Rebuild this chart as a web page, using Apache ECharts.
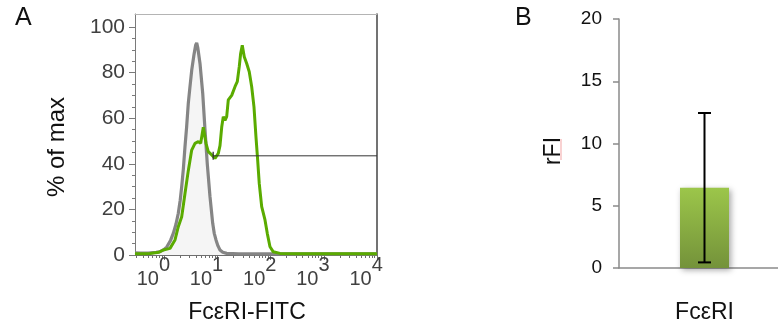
<!DOCTYPE html>
<html>
<head>
<meta charset="utf-8">
<script src="https://cdn.jsdelivr.net/npm/echarts@6/dist/echarts.min.js"></script>
<style>
html,body{margin:0;padding:0;background:#fff;}
#c{width:778px;height:330px;}
</style>
</head>
<body>
<div id="c"></div>
<script>
// ---- Panel A: flow histogram (x in log10 decades of fluorescence, y in % of max)
var grayX = [-0.55,-0.45,-0.30,-0.15,-0.08,0.00,0.05,0.12,0.17,0.22,0.264,0.30,0.328,0.36,0.39,0.42,0.452,0.48,0.516,0.56,0.59,0.61,0.63,0.672,0.723,0.766,0.809,0.86,0.911,0.94,0.973,1.01,1.048,1.10,1.174,1.4,2.0,3.0,4.0];
var grayY = [1.0,0.8,0.8,1.2,1.5,2.5,3.6,6.5,9.5,13.5,18.3,24,30,38,47.5,56,66.5,73,81,88,92,93,91,84,71,55,40,25.6,13.9,9.5,6.6,4,2.2,1.2,0.7,0.5,0.5,0.5,0.5];
var greenX = [-0.55,-0.40,-0.268,-0.10,-0.018,0.108,0.202,0.264,0.328,0.39,0.452,0.516,0.578,0.640,0.685,0.734,0.785,0.828,0.892,0.954,1.016,1.048,1.080,1.110,1.142,1.174,1.204,1.268,1.330,1.373,1.410,1.437,1.467,1.504,1.550,1.598,1.644,1.687,1.724,1.756,1.786,1.832,1.894,1.937,1.988,2.050,2.176,2.5,3.0,4.0];
var greenY = [0.5,0.6,0.7,1.2,2.2,2.9,6.6,12.4,16.8,27,37,46,49,49.7,49,56,49,45.3,43.9,42.4,44.6,48,56,60.7,59,60.7,68,70,73.8,76,82.6,88.5,92,87,84,80.4,73.8,65,51.9,41.7,31.4,21.2,15.4,9.5,3.6,1.4,0.7,0.5,0.5,0.5];
var gateX = [0.92, 4.0];
var gateY = [43.5, 43.5];
var xDecades = [0, 1, 2, 3, 4];
var yTicksA = [0, 20, 40, 60, 80, 100];
var yMinorA = [5,10,15,25,30,35,45,50,55,65,70,75,85,90,95];

// ---- Panel B: bar with error bar
var categoriesB = ['Fc\u03b5RI'];
var meanB = [6.45];
var errLowB = [0.45];
var errHighB = [12.45];

var FONT = 'Liberation Sans, Arial, sans-serif';

function pairs(xs, ys){ var o=[]; for(var i=0;i<xs.length;i++){o.push([xs[i],ys[i]]);} return o; }

var xMinorA = [];
for (var k=-1;k<4;k++){ for (var m=2;m<10;m++){ var v=k+Math.log10(m); if (v>-0.55 && v<4) xMinorA.push(v);} }
// decade labels "10^n" are anchored so that the exponent sits over its tick
var LABEL_SHIFT = 0.205;
var xLabelPos = xDecades.map(function(d){ return d - LABEL_SHIFT; });

var chart = echarts.init(document.getElementById('c'));
var option = {
  animation: false,
  backgroundColor: '#ffffff',
  textStyle: {fontFamily: FONT},
  grid: [
    {left:135, top:14, width:242, height:241, outerBoundsMode:'none', containLabel:false},
    {left:135, top:14, width:242, height:241, outerBoundsMode:'none', containLabel:false},
    {left:619, top:19, width:171, height:249, outerBoundsMode:'none', containLabel:false}
  ],
  xAxis: [
    {gridIndex:0, type:'value', min:-0.55, max:4, position:'bottom',
     axisLine:{show:true, onZero:false, lineStyle:{color:'#6e6e6e', width:1}},
     axisTick:{show:true, customValues:xDecades, length:5, lineStyle:{color:'#6e6e6e'}},
     axisLabel:{show:true, customValues:xLabelPos, margin:0, showMinLabel:true, showMaxLabel:true, hideOverlap:false,
       formatter:function(v){return '{b|10}{e|'+Math.round(v + LABEL_SHIFT)+'}';},
       rich:{
         b:{fontSize:20, lineHeight:34, verticalAlign:'bottom', color:'#404040', fontFamily:FONT},
         e:{fontSize:20, lineHeight:20, verticalAlign:'top', color:'#404040', fontFamily:FONT}
       }},
     splitLine:{show:false}},
    {gridIndex:0, type:'value', min:-0.55, max:4, position:'top',
     axisLine:{show:true, onZero:false, lineStyle:{color:'#b4b4b4', width:1}},
     axisTick:{show:false}, axisLabel:{show:false}, splitLine:{show:false}},
    {gridIndex:1, type:'value', min:-0.55, max:4, position:'bottom',
     axisLine:{show:false, onZero:false},
     axisTick:{show:true, customValues:xMinorA, length:3, lineStyle:{color:'#6e6e6e'}},
     axisLabel:{show:false}, splitLine:{show:false}},
    {gridIndex:2, type:'category', data:categoriesB, position:'bottom',
     axisLine:{show:true, onZero:false, lineStyle:{color:'#8a8a8a', width:1.5}},
     axisTick:{show:false},
     axisLabel:{margin:33, fontSize:23, color:'#111', fontFamily:FONT},
     splitLine:{show:false}}
  ],
  yAxis: [
    {gridIndex:0, type:'value', min:0, max:105.7, position:'left',
     axisLine:{show:true, onZero:false, lineStyle:{color:'#7a7a7a', width:1}},
     axisTick:{show:true, customValues:yTicksA, length:6, lineStyle:{color:'#7a7a7a'}},
     axisLabel:{show:true, customValues:yTicksA, margin:10, fontSize:21, color:'#404040', fontFamily:FONT},
     splitLine:{show:false}},
    {gridIndex:0, type:'value', min:0, max:105.7, position:'right',
     axisLine:{show:true, onZero:false, lineStyle:{color:'#444', width:1.5}},
     axisTick:{show:false}, axisLabel:{show:false}, splitLine:{show:false}},
    {gridIndex:1, type:'value', min:0, max:105.7, position:'left',
     axisLine:{show:false, onZero:false},
     axisTick:{show:true, customValues:yMinorA, length:3, lineStyle:{color:'#7a7a7a'}},
     axisLabel:{show:false}, splitLine:{show:false}},
    {gridIndex:2, type:'value', min:0, max:20, interval:5, position:'left',
     axisLine:{show:true, onZero:false, lineStyle:{color:'#8a8a8a', width:1.5}},
     axisTick:{show:true, length:6, lineStyle:{color:'#8a8a8a', width:1.5}},
     axisLabel:{margin:17, fontSize:19, color:'#111', fontFamily:FONT},
     splitLine:{show:false}}
  ],
  series: [
    {type:'line', xAxisIndex:0, yAxisIndex:0, data:pairs(grayX, grayY), showSymbol:false, symbol:'none',
     lineStyle:{color:'#858585', width:3.2}, areaStyle:{color:'#f1f1f1', origin:'start'}, z:2},
    {type:'line', xAxisIndex:0, yAxisIndex:0, data:pairs(greenX, greenY), showSymbol:false, symbol:'none',
     lineStyle:{color:'#5aab00', width:3}, z:3},
    {type:'line', xAxisIndex:0, yAxisIndex:0, z:4,
     data:[{value:[gateX[0],gateY[0]], symbol:'rect', symbolSize:[1.3,8]}, {value:[gateX[1],gateY[1]], symbol:'none'}],
     showSymbol:true, itemStyle:{color:'#333'}, lineStyle:{color:'#333', width:1}},
    {type:'bar', xAxisIndex:3, yAxisIndex:3, data:meanB, barWidth:49,
     itemStyle:{
       color:new echarts.graphic.LinearGradient(0,0,0,1,[{offset:0,color:'#9cc64a'},{offset:1,color:'#74923a'}]),
       shadowBlur:6, shadowColor:'rgba(0,0,0,0.35)', shadowOffsetX:2, shadowOffsetY:2}},
    {type:'custom', xAxisIndex:3, yAxisIndex:3, z:5,
     data: categoriesB.map(function(c,i){return [i, errLowB[i], errHighB[i]];}),
     encode:{x:0, y:[1,2]},
     renderItem:function(params, api){
       var lo = api.coord([api.value(0), api.value(1)]);
       var hi = api.coord([api.value(0), api.value(2)]);
       var hw = 6.5;
       var st = {stroke:'#000', lineWidth:2};
       return {type:'group', children:[
         {type:'line', shape:{x1:lo[0], y1:lo[1], x2:hi[0], y2:hi[1]}, style:st},
         {type:'line', shape:{x1:lo[0]-hw, y1:lo[1], x2:lo[0]+hw, y2:lo[1]}, style:st},
         {type:'line', shape:{x1:hi[0]-hw, y1:hi[1], x2:hi[0]+hw, y2:hi[1]}, style:st}
       ]};
     }}
  ],
  graphic: [
    {type:'text', x:15, y:6, style:{text:'A', fontSize:25, fill:'#111', fontFamily:FONT}},
    {type:'text', x:515, y:6, style:{text:'B', fontSize:25, fill:'#111', fontFamily:FONT}},
    {type:'text', x:247, y:313, style:{text:'Fc\u03b5RI-FITC', fontSize:23, fill:'#111', fontFamily:FONT, align:'center', verticalAlign:'middle'}},
    {type:'text', x:57, y:147, rotation:Math.PI/2, style:{text:'% of max', fontSize:24, fill:'#111', fontFamily:FONT, align:'center', verticalAlign:'middle'}},
    {type:'text', x:553.5, y:151, rotation:Math.PI/2, style:{text:'rFI', fontSize:23, fill:'#111', fontFamily:FONT, align:'center', verticalAlign:'middle'}},
    {type:'line', shape:{x1:561, y1:139, x2:561, y2:160}, style:{stroke:'#f3a5a5', lineWidth:1}}
  ]
};
chart.setOption(option);
</script>
</body>
</html>
